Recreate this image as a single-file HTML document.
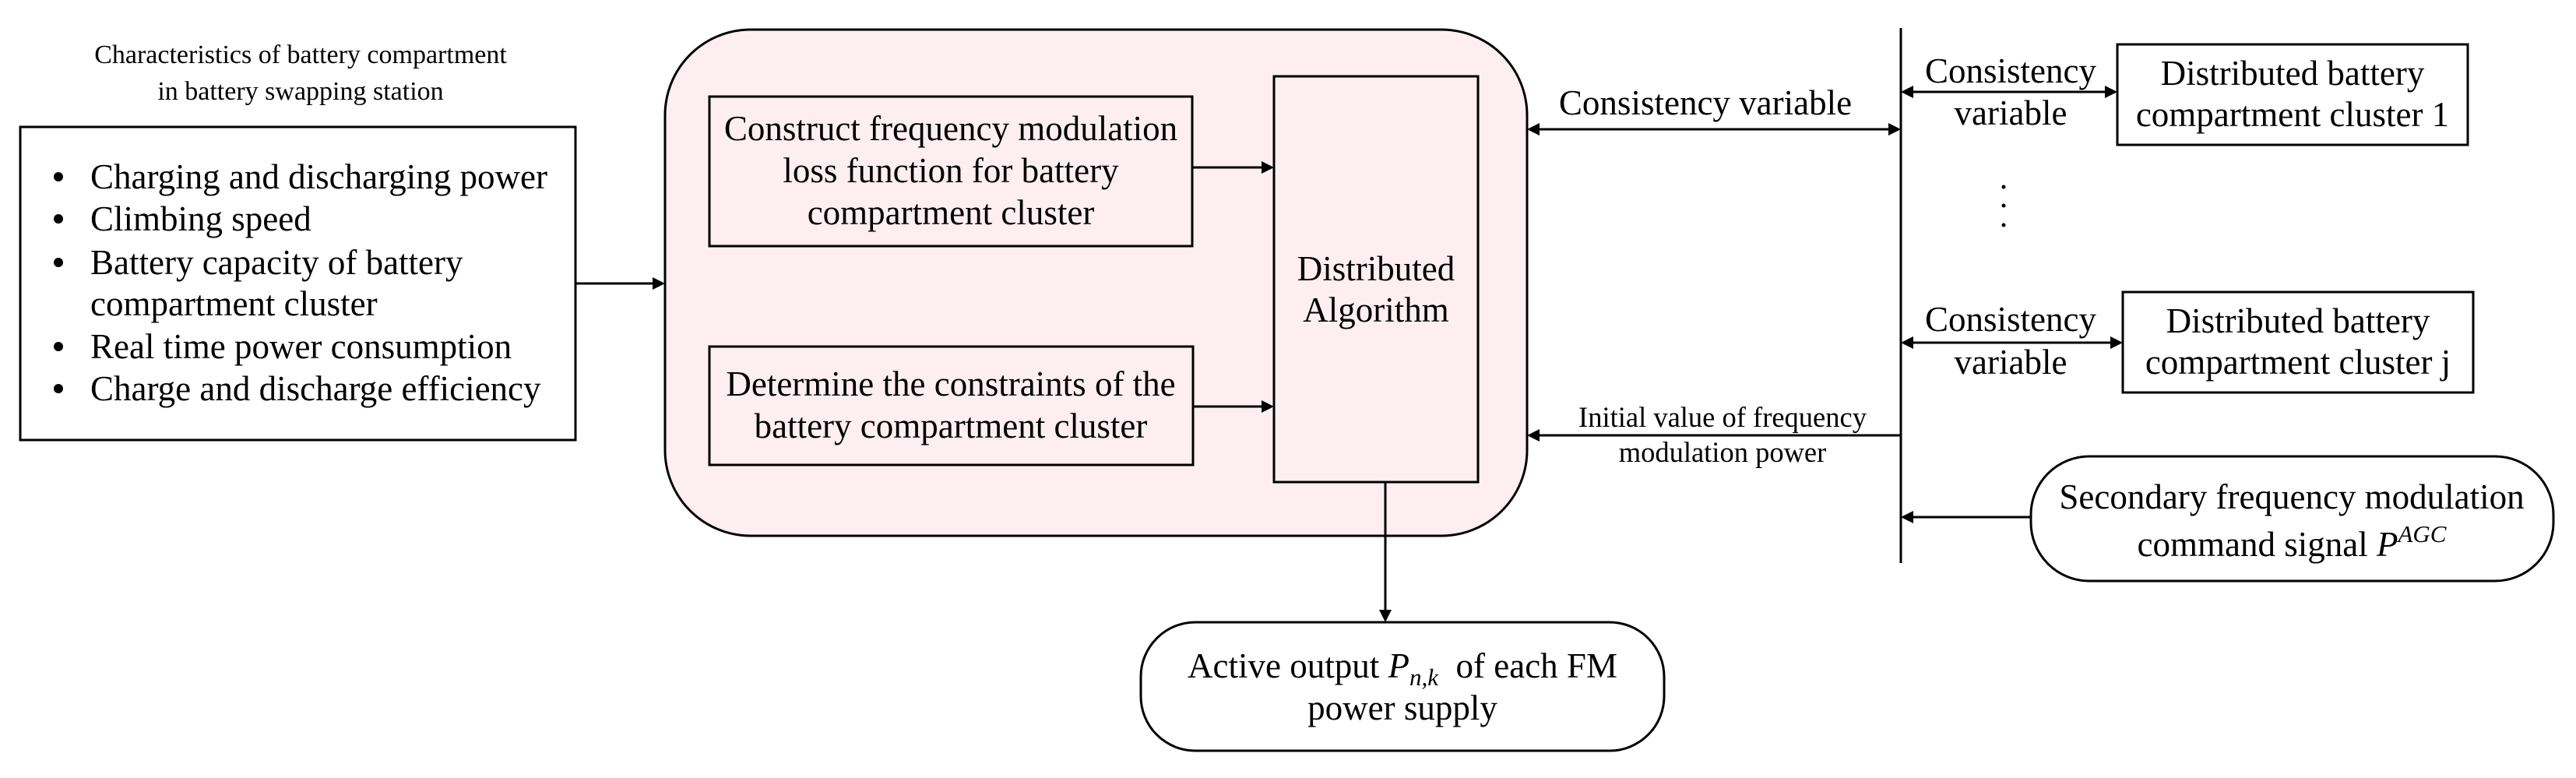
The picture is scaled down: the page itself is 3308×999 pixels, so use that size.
<!DOCTYPE html>
<html><head><meta charset="utf-8"><style>
html,body{margin:0;padding:0;background:#fff;}
svg{display:block;}
text{font-family:"Liberation Serif",serif;fill:#000;}
</style></head><body>
<svg width="3308" height="999" viewBox="0 0 3308 999" xmlns="http://www.w3.org/2000/svg">
<g stroke="#000" stroke-width="3" fill="none">
<rect x="26" y="163" width="713" height="402" fill="#fff"/>
<rect x="854" y="38" width="1107" height="650" rx="110" ry="110" fill="#fdeef2"/>
<rect x="911" y="124" width="620" height="192" fill="#fdeef2"/>
<rect x="911" y="445" width="621" height="152" fill="#fdeef2"/>
<rect x="1636" y="98" width="262" height="521" fill="#fdeef2"/>
<rect x="1465" y="799" width="672" height="165" rx="70" ry="70" fill="#fff"/>
<rect x="2719" y="57" width="450" height="129" fill="#fff"/>
<rect x="2726" y="375" width="450" height="129" fill="#fff"/>
<rect x="2608" y="586" width="671" height="160" rx="75" ry="75" fill="#fff"/>
<line x1="2441" y1="36" x2="2441" y2="723"/>
<line x1="739" y1="364" x2="840" y2="364"/>
<line x1="1531" y1="215" x2="1622" y2="215"/>
<line x1="1532" y1="522" x2="1622" y2="522"/>
<line x1="1779" y1="619" x2="1779" y2="785"/>
<line x1="1975" y1="166" x2="2427" y2="166"/>
<line x1="1975" y1="559" x2="2441" y2="559"/>
<line x1="2455" y1="118" x2="2705" y2="118"/>
<line x1="2455" y1="440" x2="2712" y2="440"/>
<line x1="2455" y1="664" x2="2608" y2="664"/>
</g>
<g fill="#000">
<polygon points="854,364 838,356 838,372"/>
<polygon points="1636,215 1620,207 1620,223"/>
<polygon points="1636,522 1620,514 1620,530"/>
<polygon points="1779,799 1771,783 1787,783"/>
<polygon points="1961,166 1977,158 1977,174"/>
<polygon points="2441,166 2425,158 2425,174"/>
<polygon points="1961,559 1977,551 1977,567"/>
<polygon points="2441,118 2457,110 2457,126"/>
<polygon points="2719,118 2703,110 2703,126"/>
<polygon points="2441,440 2457,432 2457,448"/>
<polygon points="2726,440 2710,432 2710,448"/>
<polygon points="2441,664 2457,656 2457,672"/>
<circle cx="2573" cy="240" r="2.5"/>
<circle cx="2573" cy="264" r="2.5"/>
<circle cx="2573" cy="289" r="2.5"/>
<circle cx="75" cy="227" r="6"/>
<circle cx="75" cy="281" r="6"/>
<circle cx="75" cy="337" r="6"/>
<circle cx="75" cy="445" r="6"/>
<circle cx="75" cy="499" r="6"/>
</g>
<g font-size="34" text-anchor="middle">
<text x="386" y="81">Characteristics of battery compartment</text>
<text x="386" y="128">in battery swapping station</text>
</g>
<g font-size="45">
<text x="116" y="242">Charging and discharging power</text>
<text x="116" y="296">Climbing speed</text>
<text x="116" y="352">Battery capacity of battery</text>
<text x="116" y="405">compartment cluster</text>
<text x="116" y="460">Real time power consumption</text>
<text x="116" y="514">Charge and discharge efficiency</text>
</g>
<g font-size="45" text-anchor="middle">
<text x="1221" y="180">Construct frequency modulation</text>
<text x="1221" y="234">loss function for battery</text>
<text x="1221" y="288">compartment cluster</text>
<text x="1221" y="508">Determine the constraints of the</text>
<text x="1221" y="562">battery compartment cluster</text>
<text x="1767" y="360">Distributed</text>
<text x="1767" y="413">Algorithm</text>
<text x="1801" y="870">Active output <tspan font-style="italic">P</tspan><tspan font-style="italic" font-size="31" dy="10">n,k</tspan><tspan dy="-10" xml:space="preserve">  of each FM</tspan></text>
<text x="1801" y="924">power supply</text>
<text x="2190" y="147">Consistency variable</text>
<text x="2582" y="106">Consistency</text>
<text x="2582" y="160">variable</text>
<text x="2582" y="425">Consistency</text>
<text x="2582" y="480">variable</text>
<text x="2944" y="109">Distributed battery</text>
<text x="2944" y="162">compartment cluster 1</text>
<text x="2951" y="427">Distributed battery</text>
<text x="2951" y="480">compartment cluster j</text>
<text x="2943" y="653">Secondary frequency modulation</text>
<text x="2943" y="714">command signal  <tspan font-style="italic">P</tspan><tspan font-style="italic" font-size="31" dy="-18">AGC</tspan></text>
</g>
<g font-size="36.5" text-anchor="middle">
<text x="2212" y="548">Initial value of frequency</text>
<text x="2212" y="593">modulation power</text>
</g>
</svg>
</body></html>
